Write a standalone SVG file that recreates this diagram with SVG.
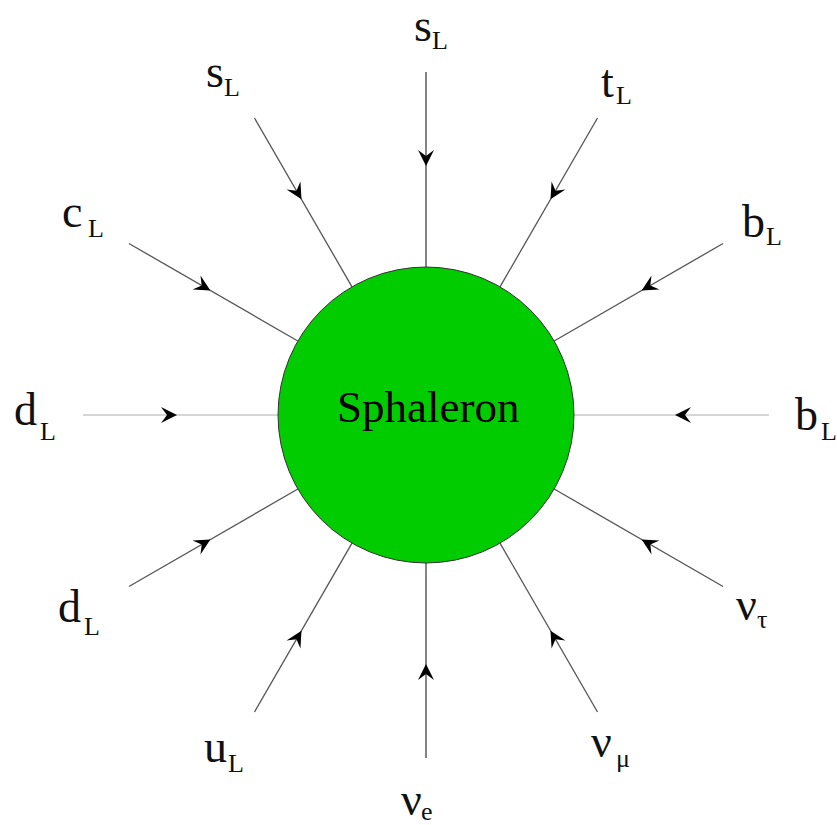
<svg xmlns="http://www.w3.org/2000/svg" xmlns:xlink="http://www.w3.org/1999/xlink" width="837" height="825" viewBox="0 0 837 825">
<style>
  .lbl { font-family: "Liberation Serif", "Times New Roman", serif; font-size: 46px; fill: #111; }
  .sub { font-size: 26px; }
  .sp { stroke: #555; stroke-width: 1.3; fill: none; }
  .spv { stroke: #666; stroke-width: 1.6; fill: none; }
  .sph { stroke: #c8c8c8; stroke-width: 1.5; fill: none; }
  .title { font-family: "Liberation Serif", "Times New Roman", serif; font-size: 45px; fill: #000; }
</style>
<defs>
  <path id="arr" d="M0,0 L-16,-8 L-10,0 L-16,8 Z" fill="#000"/>
</defs>
<rect width="837" height="825" fill="#fff"/>
<g id="connectors">
  <g transform="translate(426,415) rotate(-90)"><line class="spv" x1="148" y1="0" x2="343" y2="0"/><use xlink:href="#arr" transform="translate(249,0) rotate(180)"/></g>
  <g transform="translate(426,415) rotate(-120)"><line class="sp" x1="148" y1="0" x2="343" y2="0"/><use xlink:href="#arr" transform="translate(249,0) rotate(180)"/></g>
  <g transform="translate(426,415) rotate(-60)"><line class="sp" x1="148" y1="0" x2="343" y2="0"/><use xlink:href="#arr" transform="translate(249,0) rotate(180)"/></g>
  <g transform="translate(426,415) rotate(-150)"><line class="sp" x1="148" y1="0" x2="343" y2="0"/><use xlink:href="#arr" transform="translate(249,0) rotate(180)"/></g>
  <g transform="translate(426,415) rotate(-30)"><line class="sp" x1="148" y1="0" x2="343" y2="0"/><use xlink:href="#arr" transform="translate(249,0) rotate(180)"/></g>
  <g transform="translate(426,415) rotate(180)"><line class="sph" x1="148" y1="0" x2="343" y2="0"/><use xlink:href="#arr" transform="translate(249,0) rotate(180)"/></g>
  <g transform="translate(426,415) rotate(0)"><line class="sph" x1="148" y1="0" x2="343" y2="0"/><use xlink:href="#arr" transform="translate(249,0) rotate(180)"/></g>
  <g transform="translate(426,415) rotate(150)"><line class="sp" x1="148" y1="0" x2="343" y2="0"/><use xlink:href="#arr" transform="translate(249,0) rotate(180)"/></g>
  <g transform="translate(426,415) rotate(120)"><line class="sp" x1="148" y1="0" x2="343" y2="0"/><use xlink:href="#arr" transform="translate(249,0) rotate(180)"/></g>
  <g transform="translate(426,415) rotate(90)"><line class="spv" x1="148" y1="0" x2="343" y2="0"/><use xlink:href="#arr" transform="translate(249,0) rotate(180)"/></g>
  <g transform="translate(426,415) rotate(60)"><line class="sp" x1="148" y1="0" x2="343" y2="0"/><use xlink:href="#arr" transform="translate(249,0) rotate(180)"/></g>
  <g transform="translate(426,415) rotate(30)"><line class="sp" x1="148" y1="0" x2="343" y2="0"/><use xlink:href="#arr" transform="translate(249,0) rotate(180)"/></g>
</g>
<g id="sphaleron">
  <circle cx="426" cy="415" r="148" fill="#00cc00" stroke="#333" stroke-width="1"/>
  <text class="title" x="337" y="422">Sphaleron</text>
</g>
<g id="label-sL-top"><text class="lbl"><tspan x="414" y="41">s</tspan><tspan class="sub" x="432" y="49">L</tspan></text></g>
<g id="label-sL-left"><text class="lbl"><tspan x="206" y="87">s</tspan><tspan class="sub" x="224" y="96">L</tspan></text></g>
<g id="label-tL"><text class="lbl"><tspan x="601" y="97">t</tspan><tspan class="sub" x="616" y="104">L</tspan></text></g>
<g id="label-cL"><text class="lbl"><tspan x="62" y="227">c</tspan><tspan class="sub" x="88" y="237">L</tspan></text></g>
<g id="label-bL-top"><text class="lbl"><tspan x="742" y="237">b</tspan><tspan class="sub" x="766" y="245">L</tspan></text></g>
<g id="label-dL-left"><text class="lbl"><tspan x="14" y="425">d</tspan><tspan class="sub" x="40" y="440">L</tspan></text></g>
<g id="label-bL-right"><text class="lbl"><tspan x="795" y="430">b</tspan><tspan class="sub" x="821" y="440">L</tspan></text></g>
<g id="label-dL-low"><text class="lbl"><tspan x="58" y="622">d</tspan><tspan class="sub" x="84" y="635">L</tspan></text></g>
<g id="label-uL"><text class="lbl"><tspan x="204" y="762">u</tspan><tspan class="sub" x="228" y="772">L</tspan></text></g>
<g id="label-nue"><text class="lbl"><tspan x="401" y="815">ν</tspan><tspan class="sub" x="421" y="820">e</tspan></text></g>
<g id="label-numu"><text class="lbl"><tspan x="591" y="757">ν</tspan><tspan class="sub" x="616" y="767">μ</tspan></text></g>
<g id="label-nutau"><text class="lbl"><tspan x="736" y="620">ν</tspan><tspan class="sub" x="757" y="628">τ</tspan></text></g>
</svg>
